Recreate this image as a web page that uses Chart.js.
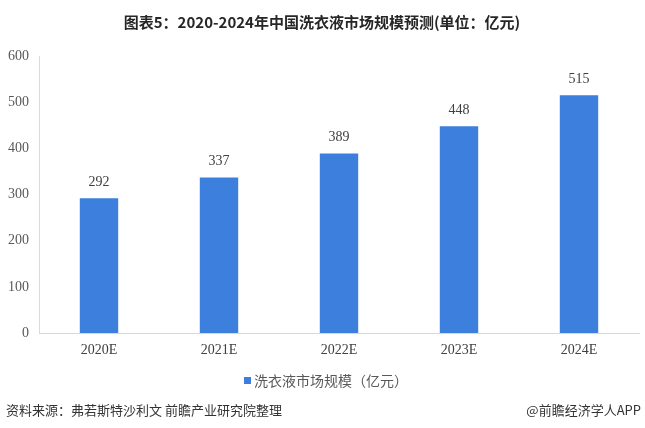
<!DOCTYPE html>
<html>
<head>
<meta charset="utf-8">
<script src="https://cdn.jsdelivr.net/npm/chart.js@4"></script>
<style>
  html, body { margin: 0; padding: 0; background: #fff; }
  #wrap { position: relative; width: 645px; height: 428px; }
</style>
</head>
<body>
<div id="wrap"><canvas id="myChart" width="645" height="428"></canvas></div>
<script>
const years = ['2020E', '2021E', '2022E', '2023E', '2024E'];
const marketSize = [292, 337, 389, 448, 515];
const seriesName = '洗衣液市场规模（亿元）';
const chartTitle = '图表5：2020-2024年中国洗衣液市场规模预测(单位：亿元)';
const sourceText = '资料来源：弗若斯特沙利文 前瞻产业研究院整理';
const brandText = '@前瞻经济学人APP';

const barColor = '#3c7fdd';
const cjkFont = '"Noto Sans CJK SC", "Noto Sans", sans-serif';
const numFont = '"Liberation Serif", "DejaVu Serif", serif';

const decorPlugin = {
  id: 'decor',
  afterDatasetsDraw(chart) {
    const { ctx } = chart;
    const meta = chart.getDatasetMeta(0);
    ctx.save();
    ctx.fillStyle = '#404040';
    ctx.font = '14px ' + numFont;
    ctx.textAlign = 'center';
    ctx.textBaseline = 'bottom';
    meta.data.forEach((bar, i) => {
      ctx.fillText(marketSize[i], bar.x, bar.y - 9);
    });
    ctx.restore();
  },
  afterDraw(chart) {
    const { ctx } = chart;
    ctx.save();
    // title
    ctx.fillStyle = '#262626';
    ctx.font = 'bold 15px ' + cjkFont;
    ctx.textAlign = 'center';
    ctx.textBaseline = 'middle';
    ctx.fillText(chartTitle, 322, 22);
    // legend
    ctx.fillStyle = barColor;
    ctx.fillRect(244, 377, 7, 7);
    ctx.fillStyle = '#595959';
    ctx.font = '14px ' + cjkFont;
    ctx.textAlign = 'left';
    ctx.fillText(seriesName, 254, 381);
    // footer
    ctx.fillStyle = '#333';
    ctx.font = '13px ' + cjkFont;
    ctx.fillText(sourceText, 6, 410);
    ctx.textAlign = 'right';
    ctx.fillText(brandText, 641, 410);
    ctx.restore();
  }
};

new Chart(document.getElementById('myChart'), {
  type: 'bar',
  data: {
    labels: years,
    datasets: [{
      label: seriesName,
      data: marketSize,
      backgroundColor: barColor,
      categoryPercentage: 1,
      barPercentage: 0.32
    }]
  },
  options: {
    responsive: false,
    animation: false,
    layout: { padding: { top: 56, right: 6, left: 0, bottom: 65 } },
    plugins: {
      legend: { display: false },
      title: { display: false },
      tooltip: { enabled: false }
    },
    scales: {
      x: {
        grid: { display: false, drawTicks: false },
        border: { color: '#d9d9d9' },
        ticks: { color: '#404040', font: { family: numFont, size: 14 }, padding: 9 },
        afterFit(scale) { scale.height = 30; }
      },
      y: {
        min: 0,
        max: 600,
        ticks: { stepSize: 100, color: '#595959', font: { family: numFont, size: 14 }, padding: 10 },
        grid: { display: false, drawTicks: false },
        border: { color: '#d9d9d9' },
        afterFit(scale) { scale.width = 39; }
      }
    }
  },
  plugins: [decorPlugin]
});
</script>
</body>
</html>
